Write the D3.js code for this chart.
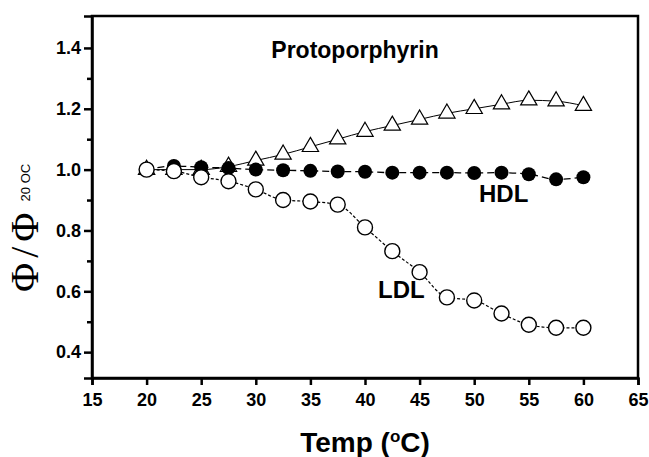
<!DOCTYPE html>
<html>
<head>
<meta charset="utf-8">
<script src="https://cdn.jsdelivr.net/npm/d3@7"></script>
<style>
  body { margin: 0; background: #fff; }
  svg { display: block; font-family: "Liberation Sans", Arial, sans-serif; }
</style>
</head>
<body>
<div id="chart"></div>
<script>
// temperatures (deg C) and the three series
var temps = [20, 22.5, 25, 27.5, 30, 32.5, 35, 37.5, 40, 42.5, 45, 47.5, 50, 52.5, 55, 57.5, 60];
var triangle = [1.00, 1.00, 1.00, 1.01, 1.03, 1.05, 1.075, 1.10, 1.125, 1.145, 1.165, 1.185, 1.20, 1.215, 1.228, 1.225, 1.21];
var hdl = [1.00, 1.012, 1.008, 1.005, 1.00, 0.998, 0.996, 0.994, 0.993, 0.99, 0.99, 0.99, 0.989, 0.99, 0.985, 0.968, 0.975];
var ldl = [1.00, 0.995, 0.975, 0.962, 0.935, 0.90, 0.895, 0.885, 0.81, 0.732, 0.663, 0.58, 0.57, 0.527, 0.49, 0.48, 0.48];

var xTicks = [15, 20, 25, 30, 35, 40, 45, 50, 55, 60, 65];
var yTicks = [0.4, 0.6, 0.8, 1.0, 1.2, 1.4];
var yMinor = [0.5, 0.7, 0.9, 1.1, 1.3];

var margin = {top: 16, right: 11, bottom: 79, left: 92};
var width = 649 - margin.left - margin.right;
var height = 457 - margin.top - margin.bottom;

var svg = d3.select("#chart")
  .append("svg")
    .attr("width", 649)
    .attr("height", 457)
  .append("g")
    .attr("transform", "translate(" + margin.left + "," + margin.top + ")");

var x = d3.scaleLinear()
  .domain([15, 65])
  .range([0, width]);

var y = d3.scaleLinear()
  .domain([0.315, 1.505])
  .range([height, 0]);

// frame
svg.append("rect")
  .attr("width", width)
  .attr("height", height)
  .attr("fill", "none")
  .attr("stroke", "#000")
  .attr("stroke-width", 2.5);

// x axis
svg.append("g")
  .attr("transform", "translate(0," + height + ")")
  .call(d3.axisBottom(x).tickValues(xTicks).tickSize(7).tickPadding(8));

// y axis, major + minor
svg.append("g")
  .call(d3.axisLeft(y).tickValues(yTicks).tickFormat(d3.format(".1f")).tickSize(8).tickPadding(3));
svg.append("g")
  .call(d3.axisLeft(y).tickValues(yMinor).tickFormat("").tickSize(5))
  .select(".domain").remove();

svg.selectAll(".domain").attr("stroke-width", 2.5);
svg.selectAll(".tick line").attr("stroke-width", 2.5);
svg.selectAll(".tick text")
  .attr("font-size", 18)
  .attr("font-weight", "bold")
  .attr("font-family", "Liberation Sans, Arial, sans-serif")
  .attr("fill", "#000");

var pts = function(vals) {
  return temps.map(function(t, i) { return {t: t, v: vals[i]}; });
};

var line = d3.line()
  .x(function(d) { return x(d.t) })
  .y(function(d) { return y(d.v) })
  .curve(d3.curveMonotoneX);

// triangles, solid line
svg.append("path")
  .datum(pts(triangle))
  .attr("fill", "none")
  .attr("stroke", "#000")
  .attr("stroke-width", 1)
  .attr("d", line);
svg.selectAll(".tri")
  .data(pts(triangle))
  .enter().append("path")
    .attr("transform", function(d) { return "translate(" + x(d.t) + "," + y(d.v) + ")" })
    .attr("d", d3.symbol().type(d3.symbolTriangle).size(115))
    .attr("fill", "#fff")
    .attr("stroke", "#000")
    .attr("stroke-width", 1.2);

// HDL, dashed line, filled circles
svg.append("path")
  .datum(pts(hdl))
  .attr("fill", "none")
  .attr("stroke", "#000")
  .attr("stroke-width", 1.3)
  .attr("stroke-dasharray", "7,4")
  .attr("d", line);
svg.selectAll(".hdl")
  .data(pts(hdl))
  .enter().append("circle")
    .attr("cx", function(d) { return x(d.t) })
    .attr("cy", function(d) { return y(d.v) })
    .attr("r", 7)
    .attr("fill", "#000");

// LDL, dotted line, open circles
svg.append("path")
  .datum(pts(ldl))
  .attr("fill", "none")
  .attr("stroke", "#000")
  .attr("stroke-width", 1.2)
  .attr("stroke-dasharray", "3,2")
  .attr("d", line);
svg.selectAll(".ldl")
  .data(pts(ldl))
  .enter().append("circle")
    .attr("cx", function(d) { return x(d.t) })
    .attr("cy", function(d) { return y(d.v) })
    .attr("r", 7.5)
    .attr("fill", "#fff")
    .attr("stroke", "#000")
    .attr("stroke-width", 1.4);

// labels
var root = d3.select("#chart svg");

root.append("text")
  .attr("x", 355).attr("y", 58)
  .attr("text-anchor", "middle")
  .attr("font-size", 23).attr("font-weight", "bold")
  .text("Protoporphyrin");

root.append("text")
  .attr("x", 479).attr("y", 202)
  .attr("font-size", 24).attr("font-weight", "bold")
  .text("HDL");

root.append("text")
  .attr("x", 378).attr("y", 298)
  .attr("font-size", 24).attr("font-weight", "bold")
  .text("LDL");

var xl = root.append("text")
  .attr("x", 365).attr("y", 452)
  .attr("text-anchor", "middle")
  .attr("font-size", 28).attr("font-weight", "bold");
xl.append("tspan").text("Temp (");
xl.append("tspan").attr("font-size", 17).attr("dy", -10).text("o");
xl.append("tspan").attr("dy", 10).text("C)");

var yl = root.append("text")
  .attr("transform", "translate(38,292) rotate(-90)");
yl.append("tspan")
  .attr("font-family", "Liberation Serif, Times New Roman, serif")
  .attr("font-size", 40)
  .attr("letter-spacing", 5)
  .text("\u03A6/\u03A6");
yl.append("tspan")
  .attr("font-size", 13)
  .attr("dx", 6)
  .attr("dy", -8)
  .text("20 OC");
</script>
</body>
</html>
